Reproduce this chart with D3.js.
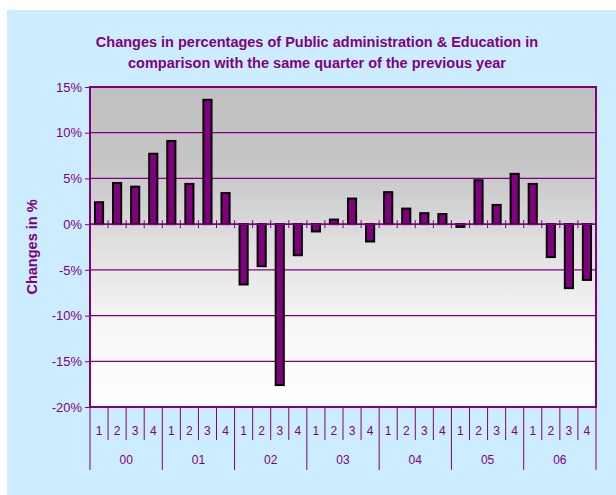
<!DOCTYPE html>
<meta charset="utf-8">
<style>
body { margin: 0; background: #fff; }
text { font-family: "Liberation Sans", Arial, sans-serif; fill: #800080; }
</style>
<svg width="616" height="495"></svg>
<script src="https://cdn.jsdelivr.net/npm/d3@7"></script>
<script>

// data
var years = ["00", "01", "02", "03", "04", "05", "06"];
var quarters = ["1", "2", "3", "4"];
var values = [
  2.4, 4.5, 4.1, 7.7,
  9.1, 4.4, 13.6, 3.4,
  -6.6, -4.6, -17.6, -3.4,
  -0.8, 0.5, 2.8, -1.9,
  3.5, 1.7, 1.2, 1.1,
  -0.3, 4.8, 2.1, 5.5,
  4.4, -3.6, -7.0, -6.1
];
var yTicks = [15, 10, 5, 0, -5, -10, -15, -20];

var purple = "#800080";

var data = [];
years.forEach(function(yr, i) {
  quarters.forEach(function(q, j) {
    data.push({key: yr + "-" + q, year: yr, q: q, value: values[i * 4 + j]});
  });
});

var svg = d3.select("svg"),
    margin = {top: 87, right: 20, bottom: 88, left: 90},
    width = +svg.attr("width") - margin.left - margin.right,
    height = +svg.attr("height") - margin.top - margin.bottom;

// light blue panel
svg.append("rect")
    .attr("x", 7).attr("y", 10)
    .attr("width", 616 - 7).attr("height", 495 - 10)
    .attr("fill", "#CCECFF");

var defs = svg.append("defs");
var grad = defs.append("linearGradient")
    .attr("id", "bg").attr("x1", 0).attr("y1", 0).attr("x2", 0).attr("y2", 1);
grad.append("stop").attr("offset", "0").attr("stop-color", "#c0c0c0");
grad.append("stop").attr("offset", "0.25").attr("stop-color", "#c6c6c6");
grad.append("stop").attr("offset", "0.5").attr("stop-color", "#e0e0e0");
grad.append("stop").attr("offset", "0.75").attr("stop-color", "#f7f7f7");
grad.append("stop").attr("offset", "1").attr("stop-color", "#ffffff");

var x = d3.scaleBand()
    .domain(data.map(function(d) { return d.key; }))
    .range([0, width])
    .paddingInner(0.55)
    .paddingOuter(0.275);

var y = d3.scaleLinear().domain([-20, 15]).range([height, 0]);

var g = svg.append("g")
    .attr("transform", "translate(" + margin.left + "," + margin.top + ")");

g.append("rect")
    .attr("width", width).attr("height", height)
    .attr("fill", "url(#bg)");

// gridlines
g.selectAll(".grid")
  .data(yTicks)
  .enter().append("line")
    .attr("x1", 0).attr("x2", width)
    .attr("y1", function(d) { return y(d); })
    .attr("y2", function(d) { return y(d); })
    .attr("stroke", purple).attr("stroke-width", 1.2);

// y axis
var yAxis = g.append("g")
    .call(d3.axisLeft(y).tickValues(yTicks).tickSize(5).tickPadding(3)
      .tickFormat(function(d) { return d + "%"; }));
yAxis.select(".domain").remove();
yAxis.selectAll("line").attr("stroke", purple);
yAxis.selectAll("text")
    .style("font-size", "13px")
    .attr("fill", purple);

// bars
g.selectAll(".bar")
  .data(data)
  .enter().append("rect")
    .attr("class", "bar")
    .attr("x", function(d) { return x(d.key); })
    .attr("y", function(d) { return y(Math.max(0, d.value)); })
    .attr("width", x.bandwidth())
    .attr("height", function(d) { return Math.abs(y(d.value) - y(0)); })
    .attr("fill", purple)
    .attr("stroke", "#000")
    .attr("stroke-width", 2);

// zero axis with crossing ticks
var step = x.step();
g.append("line")
    .attr("x1", 0).attr("x2", width)
    .attr("y1", y(0)).attr("y2", y(0))
    .attr("stroke", purple).attr("stroke-width", 1.5);
g.selectAll(".ztick")
  .data(d3.range(1, data.length))
  .enter().append("line")
    .attr("x1", function(i) { return i * step; })
    .attr("x2", function(i) { return i * step; })
    .attr("y1", y(0) - 4).attr("y2", y(0) + 4)
    .attr("stroke", purple);

// plot border
g.append("rect")
    .attr("width", width).attr("height", height)
    .attr("fill", "none")
    .attr("stroke", purple).attr("stroke-width", 2);

// category axis at the bottom: quarters then years
var cat = g.append("g").attr("transform", "translate(0," + height + ")");
cat.selectAll(".sep")
  .data(d3.range(0, data.length + 1))
  .enter().append("line")
    .attr("x1", function(i) { return i * step; })
    .attr("x2", function(i) { return i * step; })
    .attr("y1", 0)
    .attr("y2", function(i) { return i % 4 === 0 ? 63 : 33; })
    .attr("stroke", purple);

cat.selectAll(".qlab")
  .data(data)
  .enter().append("text")
    .attr("x", function(d) { return x(d.key) + x.bandwidth() / 2; })
    .attr("y", 28)
    .attr("text-anchor", "middle")
    .style("font-size", "12px")
    .text(function(d) { return d.q; });

cat.selectAll(".ylab")
  .data(years)
  .enter().append("text")
    .attr("x", function(d, i) { return (i * 4 + 2) * step; })
    .attr("y", 57)
    .attr("text-anchor", "middle")
    .style("font-size", "12px")
    .text(function(d) { return d; });

// axis title
svg.append("text")
    .attr("transform", "rotate(-90)")
    .attr("x", -247)
    .attr("y", 37)
    .attr("text-anchor", "middle")
    .style("font-size", "14.5px")
    .style("font-weight", "bold")
    .text("Changes in %");

// chart title
var title = svg.append("text")
    .attr("text-anchor", "middle")
    .style("font-size", "14.5px")
    .style("font-weight", "bold");
title.append("tspan").attr("x", 317).attr("y", 47)
    .text("Changes in percentages of Public administration & Education in");
title.append("tspan").attr("x", 317).attr("y", 68)
    .text("comparison with the same quarter of the previous year");

</script>
